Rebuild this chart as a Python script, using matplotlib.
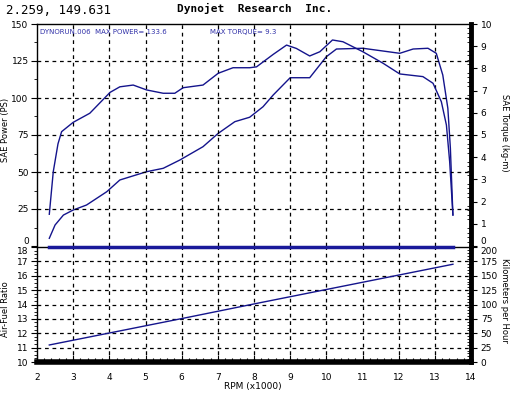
import numpy as np
import matplotlib
matplotlib.use('Agg')
import matplotlib.pyplot as plt
from matplotlib.ticker import MultipleLocator

# data
torque_rpm = [2.34, 2.45, 2.58, 2.68, 3.0, 3.46, 4.02, 4.29, 4.66, 5.03, 5.49, 5.81, 6.04,
              6.59, 7.01, 7.42, 7.88, 8.07, 8.53, 8.9, 9.17, 9.54, 9.82, 10.17, 10.46,
              11.01, 11.57, 12.03, 12.67, 12.95, 13.18, 13.32, 13.41, 13.5]
torque_kgm = [1.43, 3.35, 4.6, 5.15, 5.57, 5.98, 6.92, 7.17, 7.25, 7.03, 6.88, 6.88, 7.13,
              7.25, 7.78, 8.03, 8.03, 8.07, 8.63, 9.05, 8.9, 8.56, 8.75, 9.28, 9.2,
              8.75, 8.23, 7.75, 7.63, 7.33, 6.5, 5.45, 3.8, 1.4]

power_rpm = [2.34, 2.5, 2.73, 3.0, 3.37, 3.93, 4.29, 5.03, 5.49, 5.95, 6.59, 7.01, 7.47,
             7.88, 8.25, 8.53, 9.0, 9.54, 10.0, 10.28, 11.01, 12.03, 12.4, 12.81, 13.04,
             13.22, 13.36, 13.43, 13.5]
power_ps = [5.2, 14.2, 20.9, 24.3, 27.7, 36.7, 44.6, 50.2, 52.5, 58.1, 67.1, 76.1, 84.0,
            87.0, 94.1, 102, 113.7, 113.7, 127.9, 133.1, 133.6, 130.2, 133.1, 133.6, 130.2,
            115.5, 93, 66, 20.9]

speed_rpm = [2.34, 6.04, 8.16, 13.5]
speed_kmh = [29.6, 76, 103, 170]

afr_rpm = [2.34, 13.5]
afr_val = [18.0, 18.0]   # off scale, sits on the top edge

rpm_ticks = list(range(2, 15))

blue = '#14148c'
grid_kw = dict(color='black', linestyle=(0, (3, 3)), linewidth=0.9)
small = 6.5
narrow = ['Liberation Sans Narrow', 'DejaVu Sans']

fig = plt.figure(figsize=(5.12, 3.94), dpi=100)
W, H = 512, 394
L, R = 37, 471

def box(top, bottom):
    return [L / W, 1 - bottom / H, (R - L) / W, (bottom - top) / H]

ax1 = fig.add_axes(box(24, 246))
ax2 = fig.add_axes(box(247, 362))
ax1t = ax1.twinx()
ax2t = ax2.twinx()

# top panel
ax1.plot(power_rpm, power_ps, color=blue, lw=1.0)
ax1t.plot(torque_rpm, torque_kgm, color=blue, lw=1.0)
ax1.set_xlim(2, 14)
ax1.set_ylim(0, 150)
ax1t.set_ylim(0, 10)
ax1.set_xticks(rpm_ticks)
ax1.set_yticks(range(0, 151, 25))
ax1.yaxis.set_minor_locator(MultipleLocator(12.5))
ax1t.set_yticks(range(0, 11))
ax1t.yaxis.set_minor_locator(MultipleLocator(0.2))
for v in range(3, 14):
    ax1.axvline(v, **grid_kw)
for v in range(25, 150, 25):
    ax1.axhline(v, **grid_kw)
ax1.tick_params(axis='x', bottom=False, labelbottom=False)

# bottom panel
ax2t.plot(speed_rpm, speed_kmh, color=blue, lw=1.0)
ax2.plot(afr_rpm, afr_val, color='#1a1a9a', lw=2.5, clip_on=False, zorder=5)
ax2.set_xlim(2, 14)
ax2.set_ylim(10, 18)
ax2t.set_ylim(0, 200)
ax2.set_xticks(rpm_ticks)
ax2.xaxis.set_minor_locator(MultipleLocator(0.2))
ax2.set_yticks(range(10, 19))
ax2.yaxis.set_minor_locator(MultipleLocator(0.25))
ax2t.set_yticks(range(0, 201, 25))
ax2t.yaxis.set_minor_locator(MultipleLocator(5))
for v in range(3, 14):
    ax2.axvline(v, **grid_kw)
for v in range(11, 18):
    ax2.axhline(v, **grid_kw)
ax2.tick_params(axis='x', which='major', direction='in', length=5, width=0.8,
                labelsize=small, pad=8)
ax2.tick_params(axis='x', which='minor', direction='in', length=3, width=0.8)

for a in (ax1, ax2):
    a.tick_params(axis='y', which='major', direction='out', length=4, width=0.8,
                  labelsize=small, pad=2)
    a.tick_params(axis='y', which='minor', direction='out', length=2, width=0.6)
    a.spines['top'].set_linewidth(1.0)
    a.spines['left'].set_linewidth(1.0)
for a in (ax1t, ax2t):
    a.tick_params(axis='y', which='major', direction='out', length=4, width=0.8,
                  labelsize=small, pad=3)
    a.tick_params(axis='y', which='minor', direction='in', length=3, width=0.6)
    a.spines['right'].set_linewidth(3.5)
    a.spines['left'].set_visible(False)
    a.spines['top'].set_visible(False)
    a.spines['bottom'].set_visible(False)
ax1.spines['right'].set_visible(False)
ax2.spines['right'].set_visible(False)
ax1.spines['bottom'].set_visible(False)
ax2.spines['bottom'].set_linewidth(4)

fig.canvas.draw()
for a in (ax1, ax2, ax1t, ax2t):
    for lab in a.get_yticklabels() + a.get_xticklabels():
        lab.set_family(narrow)
# keep the shared-edge labels apart, as on the sheet
ax1.get_yticklabels()[0].set_va('bottom')
ax1t.get_yticklabels()[0].set_va('bottom')
ax2.get_yticklabels()[-1].set_va('top')
ax2t.get_yticklabels()[-1].set_va('top')

# texts
fig.text(6 / W, 1 - 10 / H, '2.259, 149.631', fontsize=9, family='DejaVu Sans Mono',
         va='center', ha='left')
fig.text(255 / W, 1 - 8 / H, 'Dynojet  Research  Inc.', fontsize=8, family='DejaVu Sans Mono',
         fontweight='bold', va='center', ha='center')
fig.text(40 / W, 1 - 32 / H, 'DYNORUN.006  MAX POWER= 133.6', fontsize=5.0, color='#3030a8',
         family=narrow, va='center', ha='left')
fig.text(210 / W, 1 - 32 / H, 'MAX TORQUE= 9.3', fontsize=5.0, color='#3030a8',
         family=narrow, va='center', ha='left')

fig.text(6 / W, 1 - 130 / H, 'SAE Power (PS)', rotation=90, fontsize=6,
         family=narrow, va='center', ha='center')
fig.text(505 / W, 1 - 133 / H, 'SAE Torque (kg-m)', rotation=-90, fontsize=6,
         family=narrow, va='center', ha='center')
fig.text(6 / W, 1 - 309 / H, 'Air-Fuel Ratio', rotation=90, fontsize=6,
         family=narrow, va='center', ha='center')
fig.text(505 / W, 1 - 300 / H, 'Kilometers per Hour', rotation=-90, fontsize=6,
         family=narrow, va='center', ha='center')
fig.text(253 / W, 1 - 387 / H, 'RPM (x1000)', fontsize=small,
         family=narrow, va='center', ha='center')

fig.savefig('out.png', dpi=100)
